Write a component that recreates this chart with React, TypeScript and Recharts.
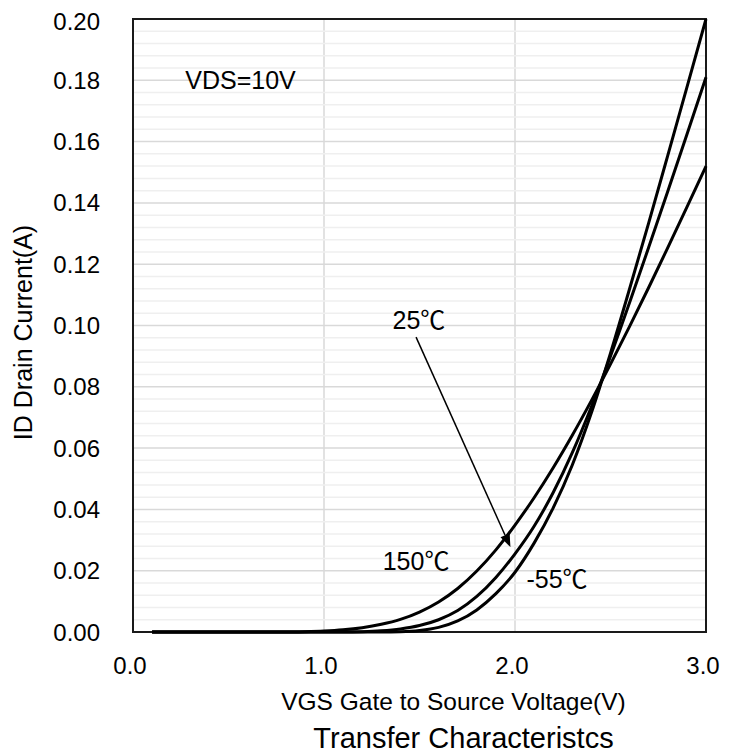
import {
  CartesianGrid,
  Line,
  LineChart,
  ReferenceArea,
  ReferenceDot,
  ReferenceLine,
  XAxis,
  YAxis,
} from "recharts";

// ── data ────────────────────────────────────────────────────────────────────

const vgs = [
  0.1, 0.2, 0.3, 0.4, 0.5, 0.6, 0.7, 0.8, 0.9, 1.0,
  1.1, 1.2, 1.3, 1.4, 1.5, 1.6, 1.7, 1.8, 1.9, 2.0,
  2.1, 2.2, 2.3, 2.4, 2.5, 2.6, 2.7, 2.8, 2.9, 3.0,
];

const id150 = [
  0, 0, 0, 0, 0, 0, 0, 0, 0.0001, 0.0003,
  0.0007, 0.0014, 0.0025, 0.0041, 0.0065, 0.0098, 0.0142, 0.0199, 0.0268, 0.0349,
  0.0438, 0.0536, 0.0642, 0.0755, 0.0874, 0.0997, 0.1124, 0.1254, 0.1386, 0.152,
];

const id25 = [
  0, 0, 0, 0, 0, 0, 0, 0, 0, 0,
  0, 0.0001, 0.0004, 0.001, 0.0021, 0.004, 0.007, 0.0116, 0.0178, 0.0255,
  0.0345, 0.0455, 0.0585, 0.0735, 0.09, 0.1075, 0.1255, 0.1438, 0.1623, 0.181,
];

const idM55 = [
  0, 0, 0, 0, 0, 0, 0, 0, 0, 0,
  0, 0, 0, 0.0001, 0.0005, 0.0015, 0.0036, 0.0072, 0.0125, 0.0195,
  0.029, 0.0405, 0.0545, 0.0715, 0.091, 0.112, 0.1335, 0.1555, 0.1777, 0.2,
];

const xTicks = [0, 1, 2, 3];
const yTicks = [0, 0.02, 0.04, 0.06, 0.08, 0.1, 0.12, 0.14, 0.16, 0.18, 0.2];
// light minor rows every 0.004 A, skipping the major 0.02 rows
const yMinor = Array.from({ length: 51 }, (_, i) => i)
  .filter((i) => i % 5 !== 0)
  .map((i) => +(i * 0.004).toFixed(3));

const data = vgs.map((v, i) => ({
  vgs: v,
  t150: id150[i],
  t25: id25[i],
  tm55: idM55[i],
}));

const FONT = '"Liberation Sans", Arial, "Noto Sans CJK SC", sans-serif';
const INK = "#000";

// ── pieces ──────────────────────────────────────────────────────────────────

interface ArrowProps {
  x1?: number;
  y1?: number;
  x2?: number;
  y2?: number;
  [key: string]: unknown;
}

function Arrow({ x1 = 0, y1 = 0, x2 = 0, y2 = 0 }: ArrowProps) {
  const ang = Math.atan2(y2 - y1, x2 - x1);
  const len = 13;
  const half = 5;
  const bx = x2 - len * Math.cos(ang);
  const by = y2 - len * Math.sin(ang);
  const px = -Math.sin(ang) * half;
  const py = Math.cos(ang) * half;
  return (
    <g>
      <line x1={x1} y1={y1} x2={bx} y2={by} stroke={INK} strokeWidth={1.5} />
      <polygon
        points={`${x2},${y2} ${bx + px},${by + py} ${bx - px},${by - py}`}
        fill={INK}
      />
    </g>
  );
}

function XTitles({ viewBox }: { viewBox?: { x: number; y: number; width: number } }) {
  if (!viewBox) return null;
  const cx = viewBox.x + viewBox.width / 2;
  return (
    <g>
      <text x={cx + 34} y={viewBox.y + 78} textAnchor="middle" fontSize={24.5} fill={INK}>
        VGS Gate to Source Voltage(V)
      </text>
      <text x={cx + 44} y={viewBox.y + 116} textAnchor="middle" fontSize={29} fill={INK}>
        Transfer Characteristcs
      </text>
    </g>
  );
}

function YTitle({ viewBox }: { viewBox?: { x: number; y: number; height: number } }) {
  if (!viewBox) return null;
  const x = viewBox.x + 15;
  const y = viewBox.y + viewBox.height / 2 + 7;
  return (
    <text
      x={x}
      y={y}
      transform={`rotate(-90, ${x}, ${y})`}
      textAnchor="middle"
      dominantBaseline="central"
      fontSize={25}
      fill={INK}
    >
      ID Drain Current(A)
    </text>
  );
}

const note = (value: string) => ({
  value,
  position: "center" as const,
  fontSize: 25,
  fill: INK,
});

// ── chart ───────────────────────────────────────────────────────────────────

export default function App() {
  return (
    <div style={{ width: 731, height: 748, fontFamily: FONT }}>
      <LineChart
        width={731}
        height={748}
        data={data}
        margin={{ top: 11, right: 33, bottom: 64, left: 0 }}
      >
        <CartesianGrid stroke="#d9d9d9" strokeWidth={1.5} />
        {yMinor.map((v) => (
          <ReferenceLine key={v} y={v} stroke="#efefef" strokeWidth={1.5} zIndex={-50} />
        ))}

        <XAxis
          dataKey="vgs"
          type="number"
          domain={[0, 3]}
          ticks={xTicks}
          height={60}
          axisLine={false}
          tickLine={false}
          tickMargin={19}
          tick={{ fill: INK, fontSize: 24, dx: -3 }}
          tickFormatter={(v: number) => v.toFixed(1)}
          label={{ content: XTitles }}
        />
        <YAxis
          domain={[0, 0.2]}
          ticks={yTicks}
          width={125}
          axisLine={false}
          tickLine={false}
          tickMargin={27}
          tick={{ fill: INK, fontSize: 24 }}
          tickFormatter={(v: number) => v.toFixed(2)}
          label={{ content: YTitle }}
        />

        <ReferenceArea
          x1={0}
          x2={3}
          y1={0}
          y2={0.2}
          fill="none"
          stroke="#1a1a1a"
          strokeWidth={2}
          ifOverflow="visible"
        />

        <Line type="monotone" dataKey="t150" stroke={INK} strokeWidth={3} dot={false} isAnimationActive={false} />
        <Line type="monotone" dataKey="t25" stroke={INK} strokeWidth={3} dot={false} isAnimationActive={false} />
        <Line type="monotone" dataKey="tm55" stroke={INK} strokeWidth={3} dot={false} isAnimationActive={false} />

        <ReferenceLine
          segment={[
            { x: 1.482, y: 0.0962 },
            { x: 1.976, y: 0.0277 },
          ]}
          shape={Arrow}
        />

        <ReferenceDot x={0.563} y={0.18} r={0} fill="none" stroke="none" label={note("VDS=10V")} />
        <ReferenceDot x={1.497} y={0.1018} r={0} fill="none" stroke="none" label={note("25℃")} />
        <ReferenceDot x={1.482} y={0.0232} r={0} fill="none" stroke="none" label={note("150℃")} />
        <ReferenceDot x={2.22} y={0.0173} r={0} fill="none" stroke="none" label={note("-55℃")} />
      </LineChart>
    </div>
  );
}
